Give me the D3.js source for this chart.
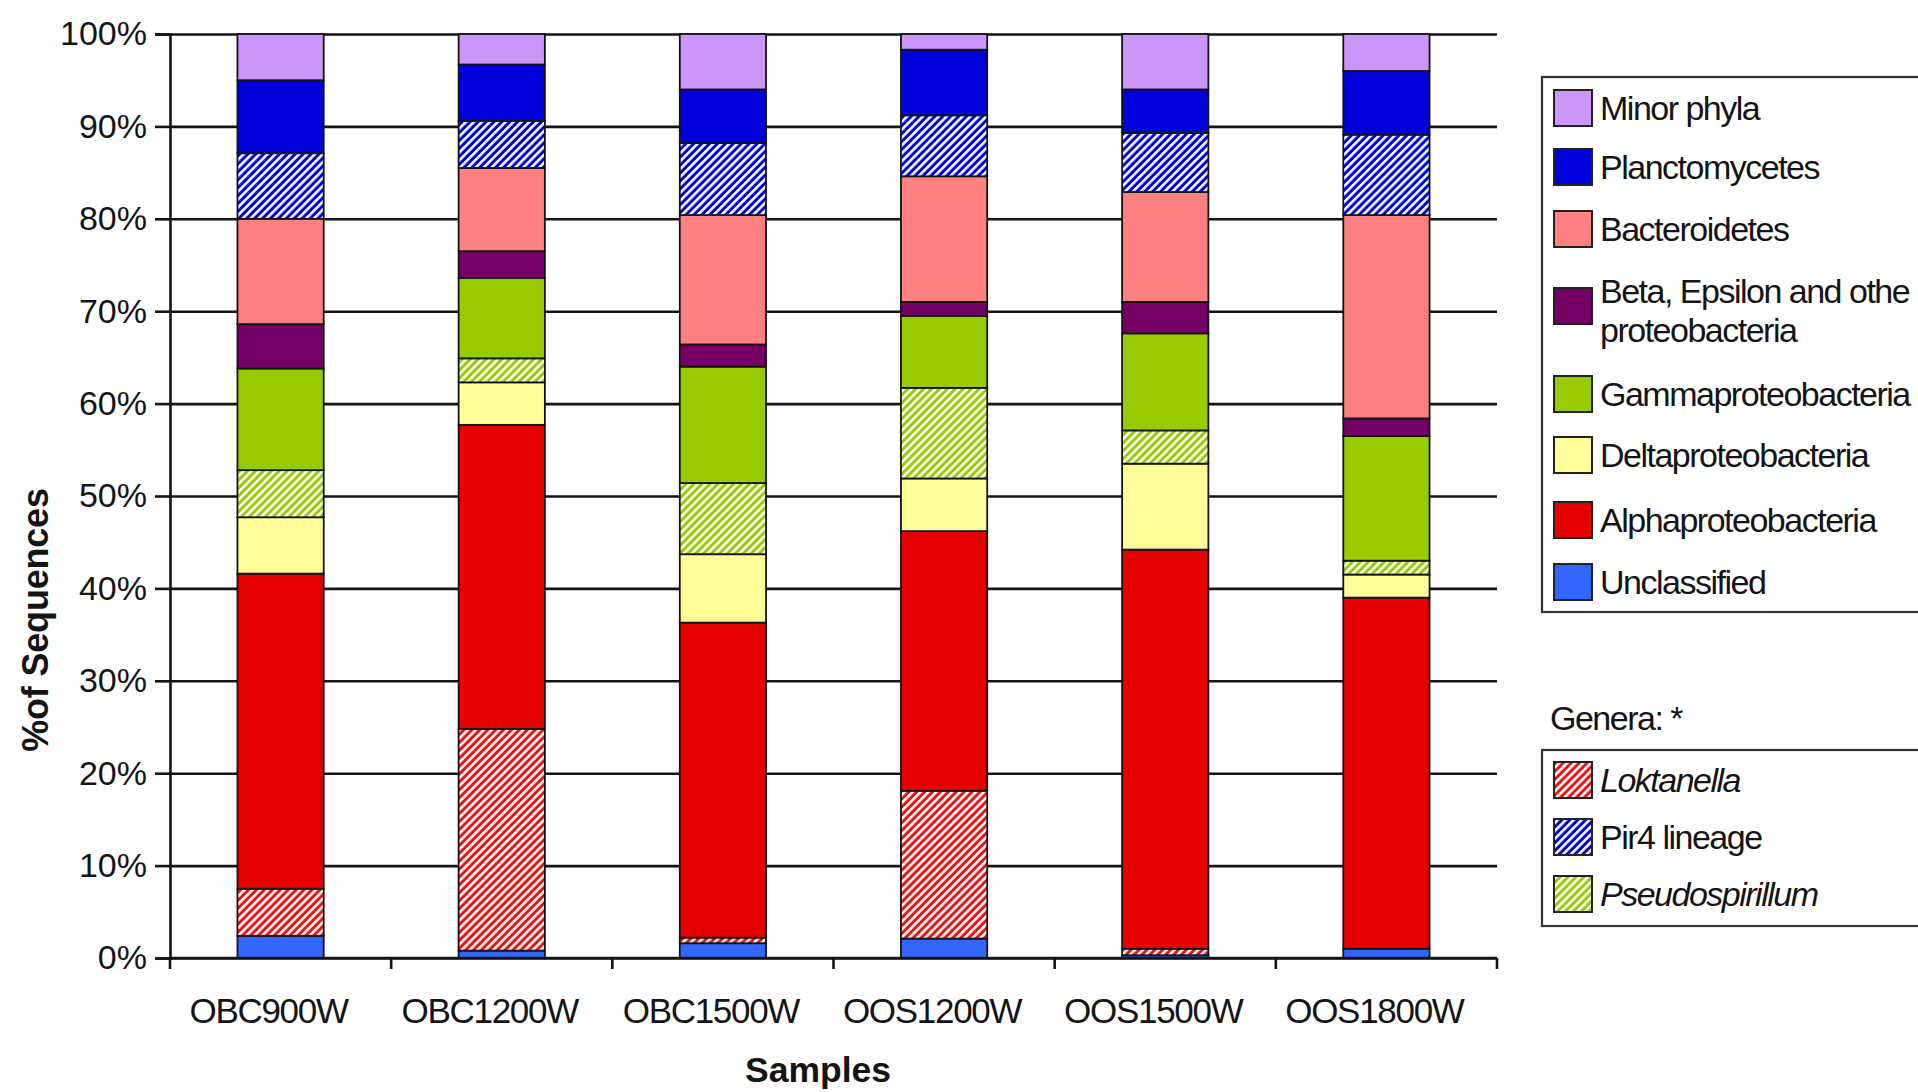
<!DOCTYPE html>
<html>
<head>
<meta charset="utf-8">
<script src="https://cdn.jsdelivr.net/npm/d3@7"></script>
<style>
  body { margin: 0; background: #fff; }
  svg { display: block; font-family: "Liberation Sans", Arial, sans-serif; }
</style>
</head>
<body>
<svg id="chart" width="1918" height="1092"></svg>
<script>
// Samples along the x axis
const samples = ["OBC900W", "OBC1200W", "OBC1500W", "OOS1200W", "OOS1500W", "OOS1800W"];

// Percentage of sequences per group, stacked bottom to top
const unclassified        = [2.4, 0.8, 1.6, 2.1, 0.3, 1.0];
const loktanella          = [5.1, 24.0, 0.6, 16.0, 0.7, 0.0];
const alphaproteobacteria = [34.1, 32.9, 34.1, 28.1, 43.2, 38.0];
const deltaproteobacteria = [6.1, 4.6, 7.4, 5.7, 9.3, 2.5];
const pseudospirillum     = [5.1, 2.6, 7.7, 9.8, 3.6, 1.5];
const gammaproteobacteria = [11.0, 8.7, 12.6, 7.8, 10.5, 13.5];
const betaEpsilonOther    = [4.8, 2.9, 2.4, 1.5, 3.4, 1.9];
const bacteroidetes       = [11.4, 9.0, 14.0, 13.6, 11.9, 22.0];
const pir4Lineage         = [7.1, 5.1, 7.8, 6.6, 6.4, 8.7];
const planctomycetes      = [7.9, 6.1, 5.8, 7.1, 4.7, 6.9];
const minorPhyla          = [5.0, 3.3, 6.0, 1.7, 6.0, 4.0];

// Y axis tick values and labels
const yTickValues = [0, 10, 20, 30, 40, 50, 60, 70, 80, 90, 100];
const yTickLabels = ["0%", "10%", "20%", "30%", "40%", "50%", "60%", "70%", "80%", "90%", "100%"];

// Series in stacking order (bottom first)
const series = [
  { key: "unclassified", label: "Unclassified", color: "#3366FF", hatch: false, values: unclassified },
  { key: "loktanella", label: "Loktanella", color: "#EE1111", hatch: true, italic: true, values: loktanella },
  { key: "alpha", label: "Alphaproteobacteria", color: "#E60000", hatch: false, values: alphaproteobacteria },
  { key: "delta", label: "Deltaproteobacteria", color: "#FFFF99", hatch: false, values: deltaproteobacteria },
  { key: "pseudospirillum", label: "Pseudospirillum", color: "#99CC00", hatch: true, italic: true, values: pseudospirillum },
  { key: "gamma", label: "Gammaproteobacteria", color: "#99CC00", hatch: false, values: gammaproteobacteria },
  { key: "beta", label: ["Beta, Epsilon and othe", "proteobacteria"], color: "#740066", hatch: false, values: betaEpsilonOther },
  { key: "bacteroidetes", label: "Bacteroidetes", color: "#FF8080", hatch: false, values: bacteroidetes },
  { key: "pir4", label: "Pir4 lineage", color: "#0000DD", hatch: true, values: pir4Lineage },
  { key: "plancto", label: "Planctomycetes", color: "#0000DD", hatch: false, values: planctomycetes },
  { key: "minor", label: "Minor phyla", color: "#CC95FA", hatch: false, values: minorPhyla }
];

const phylaLegend = ["minor", "plancto", "bacteroidetes", "beta", "gamma", "delta", "alpha", "unclassified"];
const generaLegend = ["loktanella", "pir4", "pseudospirillum"];

const table = samples.map((s, i) => {
  const row = { sample: s };
  series.forEach(d => { row[d.key] = d.values[i]; });
  return row;
});

const svg = d3.select("#chart");
const ink = "#141414";

// Plot frame
const plotLeft = 170, plotRight = 1497, plotTop = 34, plotBottom = 958;

const x = d3.scaleBand().domain(samples).range([plotLeft, plotRight]).paddingInner(0.61).paddingOuter(0.305);
const y = d3.scaleLinear().domain([0, 100]).range([plotBottom, plotTop]);

// Hatch patterns: white diagonal stripes over the group colour
const defs = svg.append("defs");
series.filter(d => d.hatch).forEach(d => {
  const p = defs.append("pattern")
    .attr("id", "hatch-" + d.key)
    .attr("patternUnits", "userSpaceOnUse")
    .attr("width", 5.6).attr("height", 5.6)
    .attr("patternTransform", "rotate(45)");
  p.append("rect").attr("width", 5.6).attr("height", 5.6).attr("fill", d.color);
  p.append("rect").attr("x", 0).attr("width", 2.6).attr("height", 5.6).attr("fill", "#ffffff");
});
const fillOf = d => d.hatch ? `url(#hatch-${d.key})` : d.color;

// Horizontal gridlines
const grid = svg.append("g").attr("transform", `translate(${plotLeft},0)`)
  .call(d3.axisLeft(y).tickValues(yTickValues).tickSize(-(plotRight - plotLeft)).tickFormat(""));
grid.select(".domain").remove();
grid.selectAll(".tick line").attr("stroke", ink).attr("stroke-width", 2.6);

// Y axis with outward ticks
const yAxis = svg.append("g").attr("transform", `translate(${plotLeft},0)`)
  .call(d3.axisLeft(y).tickValues(yTickValues).tickSize(15).tickPadding(8)
    .tickFormat((v, i) => yTickLabels[i]));
yAxis.select(".domain").attr("stroke", ink).attr("stroke-width", 2.6);
yAxis.selectAll(".tick line").attr("stroke", ink).attr("stroke-width", 2.6);
yAxis.selectAll(".tick text")
  .attr("fill", ink).attr("font-size", 34).attr("letter-spacing", "0px");

// Stacked bars
const stacked = d3.stack().keys(series.map(d => d.key))(table);
const layers = svg.append("g").selectAll("g").data(stacked).join("g")
  .attr("fill", (l, i) => fillOf(series[i]));
layers.selectAll("rect").data(l => l).join("rect")
  .attr("x", d => x(d.data.sample))
  .attr("width", x.bandwidth())
  .attr("y", d => y(d[1]))
  .attr("height", d => Math.max(0, y(d[0]) - y(d[1])))
  .attr("stroke", ink).attr("stroke-width", 1.8);

// X axis with ticks between categories
const xAxis = svg.append("g").attr("transform", `translate(0,${plotBottom})`)
  .call(d3.axisBottom(x).tickSize(0).tickPadding(40));
xAxis.select(".domain").remove();
xAxis.selectAll(".tick text")
  .attr("dx", -12)
  .attr("fill", ink).attr("font-size", 35).attr("letter-spacing", "-1.3px");
svg.append("line")
  .attr("x1", plotLeft).attr("x2", plotRight).attr("y1", plotBottom).attr("y2", plotBottom)
  .attr("stroke", ink).attr("stroke-width", 2.6);
svg.append("g").selectAll("line").data(d3.range(samples.length + 1)).join("line")
  .attr("x1", i => plotLeft + i * x.step()).attr("x2", i => plotLeft + i * x.step())
  .attr("y1", plotBottom).attr("y2", plotBottom + 11)
  .attr("stroke", ink).attr("stroke-width", 2.6);

// Axis titles
svg.append("text")
  .attr("x", 818).attr("y", 1082)
  .attr("text-anchor", "middle").attr("font-weight", "bold")
  .attr("font-size", 35.5).attr("fill", ink)
  .text("Samples");
svg.append("text")
  .attr("transform", "translate(48,620) rotate(-90)")
  .attr("text-anchor", "middle").attr("font-weight", "bold")
  .attr("font-size", 36).attr("letter-spacing", "-0.2px").attr("fill", ink)
  .text("%of Sequences");

// Legend drawing helper
function drawLegend(keys, boxTop, boxBottom, rowY) {
  const g = svg.append("g");
  g.append("rect")
    .attr("x", 1542).attr("y", boxTop)
    .attr("width", 420).attr("height", boxBottom - boxTop)
    .attr("fill", "#fff").attr("stroke", "#333").attr("stroke-width", 2.2);
  keys.forEach((k, i) => {
    const s = series.find(d => d.key === k);
    const cy = rowY[i];
    const lines = Array.isArray(s.label) ? s.label : [s.label];
    g.append("rect")
      .attr("x", 1554).attr("y", cy - 18).attr("width", 38).attr("height", 36)
      .attr("fill", fillOf(s)).attr("stroke", "#222").attr("stroke-width", 2);
    const t = g.append("text")
      .attr("x", 1600).attr("y", lines.length > 1 ? cy - 3 : cy + 12)
      .attr("font-size", 34).attr("letter-spacing", "-1.5px").attr("fill", ink)
      .attr("font-style", s.italic ? "italic" : "normal");
    lines.forEach((line, j) => {
      t.append("tspan").attr("x", 1600).attr("dy", j === 0 ? 0 : 39).text(line);
    });
  });
}

drawLegend(phylaLegend, 77, 612, [108, 167, 229, 306, 394, 455, 520, 582]);

svg.append("text")
  .attr("x", 1550).attr("y", 730)
  .attr("font-size", 34).attr("letter-spacing", "-1.5px").attr("fill", ink)
  .text("Genera: *");

drawLegend(generaLegend, 750, 926, [780, 837, 894]);
</script>
</body>
</html>
